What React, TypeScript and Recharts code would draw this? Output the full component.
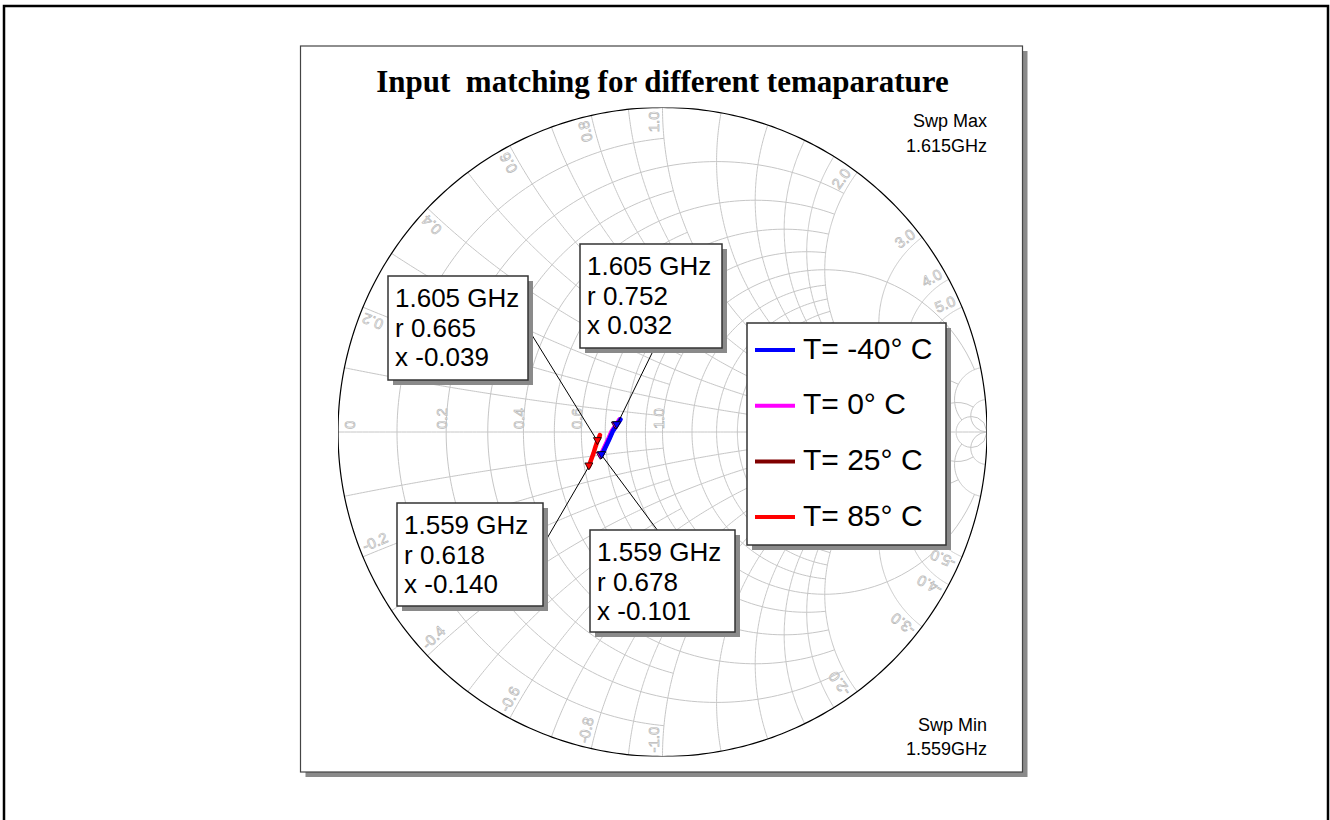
import React from 'react';
import { ComposedChart, Line, Scatter, XAxis, YAxis } from 'recharts';

// ---------------- data ----------------
const freqGHz = [1.559, 1.571, 1.582, 1.594, 1.605, 1.615];
const seriesNames = ['T= -40° C', 'T= 0° C', 'T= 25° C', 'T= 85° C'];
const seriesColors = ['#0000ff', '#ff00ff', '#800000', '#ff0000'];
// normalised impedance r + jx per frequency
const rTm40 = [0.678, 0.699, 0.719, 0.735, 0.752, 0.769];
const xTm40 = [-0.101, -0.067, -0.030, 0.005, 0.032, 0.061];
const rT0 = [0.672, 0.693, 0.713, 0.729, 0.746, 0.763];
const xT0 = [-0.103, -0.069, -0.032, 0.003, 0.030, 0.059];
const rT25 = [0.675, 0.696, 0.716, 0.732, 0.749, 0.766];
const xT25 = [-0.102, -0.068, -0.031, 0.004, 0.031, 0.060];
const rT85 = [0.618, 0.632, 0.645, 0.655, 0.665, 0.677];
const xT85 = [-0.140, -0.113, -0.088, -0.063, -0.039, -0.013];
const markerFreqs = [1.559, 1.605];
const sweepMinGHz = 1.559;
const sweepMaxGHz = 1.615;
const chartTitle = 'Input  matching for different temaparature';

// Smith grid: constant-r circles (value, |x| limit) and constant-x arcs (value, r limit)
const rGridValues = [0.1, 0.3, 0.5, 0.7, 0.9, 0.2, 0.4, 0.6, 0.8, 1.0, 1.2, 1.4, 1.6, 1.8, 2.0, 3.0, 4.0, 5.0, 10.0, 20.0];
const rGridLimits = [1, 1, 1, 1, 1, 2, 2, 2, 2, 10, 2, 2, 2, 2, 5, 5, 5, 10, 20, 1e9];
const xGridValues = [0.1, 0.3, 0.5, 0.7, 0.9, 0.2, 0.4, 0.6, 0.8, 1.0, 1.2, 1.4, 1.6, 1.8, 2.0, 3.0, 4.0, 5.0, 10.0, 20.0];
const xGridLimits = [1, 1, 1, 1, 1, 2, 2, 2, 2, 10, 2, 2, 2, 2, 5, 5, 5, 10, 20, 1e9];
const rAxisLabels = [0, 0.2, 0.4, 0.6, 1.0, 2.0, 3.0, 4.0, 5.0];
const xRimLabels = [0.2, 0.4, 0.6, 0.8, 1.0, 2.0, 3.0, 4.0, 5.0, -0.2, -0.4, -0.6, -0.8, -1.0, -2.0, -3.0, -4.0, -5.0];

// ---------------- layout ----------------
const W = 1330;
const H = 820;
const CX = 662.5;
const CY = 432;
const RAD = 324.5;
const SANS = "'Liberation Sans', Arial, sans-serif";
const SERIF = "'Liberation Serif', 'Times New Roman', serif";
const GRID = '#c6c6c6';
const LABEL = '#b8b8b8';
const SHADOW = '#8a8a8a';

const calloutLayout: Record<string, { left: number; top: number; w: number; h: number; ax: number; ay: number }> = {
  '3-1.605': { left: 388, top: 276, w: 140, h: 104, ax: 527, ay: 327 },
  '0-1.605': { left: 580, top: 244, w: 142, h: 104, ax: 655, ay: 347 },
  '3-1.559': { left: 397, top: 503, w: 146, h: 103, ax: 542, ay: 547 },
  '0-1.559': { left: 590, top: 530, w: 145, h: 102, ax: 658, ay: 531 },
};

// ---------------- helpers ----------------
function gamma(r: number, x: number) {
  const d = (r + 1) * (r + 1) + x * x;
  return { gx: (r * r + x * x - 1) / d, gy: (2 * x) / d };
}
function rCircle(r: number, xmax: number, n = 200) {
  const um = Math.atan(xmax);
  const pts = [];
  for (let i = 0; i <= n; i++) {
    const u = -um + (2 * um * i) / n;
    pts.push(gamma(r, Math.tan(u)));
  }
  return pts;
}
function xArc(x: number, rmax: number, n = 160) {
  const um = Math.atan(rmax);
  const pts = [];
  for (let i = 0; i <= n; i++) {
    const u = (um * i) / n;
    pts.push(gamma(Math.tan(u), x));
  }
  return pts;
}

const gridCurves: { gx: number; gy: number }[][] = [];
rGridValues.forEach((r, i) => gridCurves.push(rCircle(r, rGridLimits[i])));
xGridValues.forEach((x, i) => {
  gridCurves.push(xArc(x, xGridLimits[i]));
  gridCurves.push(xArc(-x, xGridLimits[i]));
});
gridCurves.push(xArc(0, 1e9));
const rimCurve = rCircle(0, 1e9, 400);

const seriesR = [rTm40, rT0, rT25, rT85];
const seriesX = [xTm40, xT0, xT25, xT85];
const traces = seriesR.map((rs, s) => rs.map((r, i) => ({ ...gamma(r, seriesX[s][i]), f: freqGHz[i] })));
const drawOrder = [2, 1, 0, 3];

const markerData: any[] = [];
drawOrder.forEach((s) => {
  markerFreqs.forEach((f) => {
    const i = freqGHz.indexOf(f);
    markerData.push({ ...gamma(seriesR[s][i], seriesX[s][i]), key: `${s}-${f.toFixed(3)}`, color: seriesColors[s] });
  });
});

const callouts = Object.keys(calloutLayout).map((k) => {
  const [s, f] = k.split('-');
  const si = Number(s);
  const i = freqGHz.indexOf(Number(f));
  return {
    ...calloutLayout[k],
    lines: [`${freqGHz[i].toFixed(3)} GHz`, `r ${seriesR[si][i].toFixed(3)}`, `x ${seriesX[si][i].toFixed(3)}`],
  };
});

const rimLabelData = xRimLabels.map((x) => ({ ...gamma(0, x), text: x.toFixed(1) }));
const axisLabelData = rAxisLabels.map((r) => ({ ...gamma(r, 0), r, text: r === 0 ? '0' : r.toFixed(1) }));

// ---------------- shapes ----------------
const RimLabel = (props: any) => {
  const { cx, cy, payload } = props;
  if (cx == null || cy == null) return <g />;
  const th = Math.atan2(payload.gy, payload.gx);
  const ox = Math.cos(th);
  const oy = -Math.sin(th);
  const upper = th >= 0;
  const alphaDeg = upper ? (-th * 180) / Math.PI : (-th * 180) / Math.PI - 180;
  const a = (alphaDeg * Math.PI) / 180;
  const dx = -Math.sin(a);
  const dy = Math.cos(a);
  const px = cx - ox * 4 - dx * 4;
  const py = cy - oy * 4 - dy * 4;
  return (
    <text
      x={px}
      y={py}
      transform={`rotate(${alphaDeg} ${px} ${py})`}
      textAnchor={upper ? 'end' : 'start'}
      fontSize={15}
      fontFamily={SANS}
      fill="#ffffff"
      stroke={LABEL}
      strokeWidth={0.7}
    >
      {payload.text}
    </text>
  );
};

const AxisLabel = (props: any) => {
  const { cx, cy, payload } = props;
  if (cx == null || cy == null) return <g />;
  const px = cx + (payload.r === 0 ? 17 : 1);
  const py = cy - 3;
  return (
    <text
      x={px}
      y={py}
      transform={`rotate(-90 ${px} ${py})`}
      textAnchor="start"
      fontSize={15}
      fontFamily={SANS}
      fill="#ffffff"
      stroke={LABEL}
      strokeWidth={0.7}
    >
      {payload.text}
    </text>
  );
};

const MarkerShape = (props: any) => {
  const { cx, cy, payload } = props;
  if (cx == null || cy == null) return <g />;
  const c = calloutLayout[payload.key];
  return (
    <g>
      {c && <line x1={cx} y1={cy} x2={c.ax} y2={c.ay} stroke="#000" strokeWidth={1} />}
      <polygon
        points={`${cx - 4},${cy - 3.5} ${cx + 4},${cy - 3.5} ${cx},${cy + 3.5}`}
        fill={payload.color}
        stroke="#000"
        strokeWidth={0.8}
      />
    </g>
  );
};

function Box({ left, top, w, h }: { left: number; top: number; w: number; h: number }) {
  return (
    <g>
      <rect x={left + 5} y={top + 5} width={w} height={h} fill={SHADOW} />
      <rect x={left} y={top} width={w} height={h} fill="#fff" stroke="#333" strokeWidth={1.5} />
    </g>
  );
}

export default function App() {
  return (
    <div style={{ position: 'absolute', left: 0, top: 0, width: W, height: H, background: '#fff', overflow: 'hidden' }}>
      {/* background frame, panel, title */}
      <svg width={W} height={H} style={{ position: 'absolute', left: 0, top: 0 }}>
        <rect x={4} y={6} width={1324} height={840} fill="#fff" stroke="#000" strokeWidth={2.5} />
        <rect x={305.5} y={51} width={722} height={726} fill={SHADOW} />
        <rect x={300.5} y={46} width={722} height={726} fill="#fff" stroke="#444" strokeWidth={1.2} />
        <text
          x={CX}
          y={92}
          textAnchor="middle"
          fontFamily={SERIF}
          fontWeight="bold"
          fontSize={31}
          fill="#000"
          style={{ whiteSpace: 'pre' }}
        >
          {chartTitle}
        </text>
        <text x={987} y={127} textAnchor="end" fontFamily={SANS} fontSize={18} fill="#000">Swp Max</text>
        <text x={987} y={152} textAnchor="end" fontFamily={SANS} fontSize={18} fill="#000">{`${sweepMaxGHz.toFixed(3)}GHz`}</text>
        <text x={987} y={731} textAnchor="end" fontFamily={SANS} fontSize={18} fill="#000">Swp Min</text>
        <text x={987} y={755} textAnchor="end" fontFamily={SANS} fontSize={18} fill="#000">{`${sweepMinGHz.toFixed(3)}GHz`}</text>
      </svg>

      {/* Smith chart */}
      <div style={{ position: 'absolute', left: 0, top: 0 }}>
        <ComposedChart
          width={W}
          height={H}
          margin={{ top: CY - RAD, left: CX - RAD, right: W - (CX + RAD), bottom: H - (CY + RAD) }}
        >
          <XAxis dataKey="gx" type="number" domain={[-1, 1]} allowDataOverflow hide />
          <YAxis dataKey="gy" type="number" domain={[-1, 1]} allowDataOverflow hide />
          {gridCurves.map((d, i) => (
            <Line
              key={`g${i}`}
              data={d}
              dataKey="gy"
              stroke={GRID}
              strokeWidth={1}
              dot={false}
              activeDot={false}
              isAnimationActive={false}
              legendType="none"
            />
          ))}
          <Line data={rimCurve} dataKey="gy" stroke="#000" strokeWidth={1.2} dot={false} activeDot={false} isAnimationActive={false} />
          <Scatter data={rimLabelData} shape={RimLabel} isAnimationActive={false} />
          <Scatter data={axisLabelData} shape={AxisLabel} isAnimationActive={false} />
          {drawOrder.map((s) => (
            <Line
              key={`t${s}`}
              data={traces[s]}
              dataKey="gy"
              name={seriesNames[s]}
              stroke={seriesColors[s]}
              strokeWidth={4.5}
              strokeLinecap="round"
              dot={false}
              activeDot={false}
              isAnimationActive={false}
            />
          ))}
          <Scatter data={markerData} shape={MarkerShape} isAnimationActive={false} />
        </ComposedChart>
      </div>

      {/* legend + marker callouts */}
      <svg width={W} height={H} style={{ position: 'absolute', left: 0, top: 0, pointerEvents: 'none' }}>
        <Box left={747} top={323} w={199} h={222} />
        {seriesNames.map((n, i) => (
          <g key={n}>
            <line x1={755} x2={795} y1={350 + i * 55.7} y2={350 + i * 55.7} stroke={seriesColors[i]} strokeWidth={4} />
            <text x={803} y={358.5 + i * 55.7} fontFamily={SANS} fontSize={30} fill="#000">{n}</text>
          </g>
        ))}
        {callouts.map((c, k) => (
          <g key={k}>
            <Box left={c.left} top={c.top} w={c.w} h={c.h} />
            {c.lines.map((t, j) => (
              <text key={j} x={c.left + 7} y={c.top + 31 + j * 29.5} fontFamily={SANS} fontSize={26} fill="#000">{t}</text>
            ))}
          </g>
        ))}
      </svg>
    </div>
  );
}
